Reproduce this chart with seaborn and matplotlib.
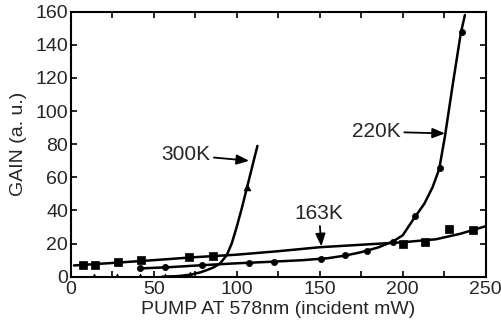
import matplotlib
matplotlib.use("Agg")
import matplotlib.pyplot as plt
import seaborn as sns
import pandas as pd
from matplotlib.ticker import MultipleLocator

# ---- data ----
k163_x = [7.5, 14.5, 28.3, 42.3, 71.3, 86.0, 200.4, 213.4, 228.0, 242.5]
k163_y = [7.0, 7.3, 9.0, 10.3, 12.0, 12.8, 20.0, 21.2, 29.0, 28.5]
k220_x = [42, 57, 79, 107.5, 122.5, 150.5, 165, 178.5, 194, 207.5, 222.5, 235.5]
k220_y = [5.0, 5.7, 7.0, 8.5, 9.0, 10.5, 12.9, 15.7, 20.8, 36.5, 65.5, 147.5]
k300_x = [14, 28, 42, 57, 72, 106]
k300_y = [0, 0, 0, 0, 1.3, 54]

# fitted curves drawn through the points
fit163_x = [2, 25, 50, 75, 100, 125, 150, 175, 200, 220, 235, 250]
fit163_y = [6.8, 8.3, 10.0, 11.8, 13.3, 15.4, 17.8, 19.3, 20.8, 22.6, 26.0, 30.5]
fit220_x = [42, 60, 80, 100, 120, 140, 155, 165, 175, 185, 194, 200, 207, 213, 218, 222, 225.5, 230, 235, 237.5]
fit220_y = [5.0, 5.8, 7.0, 8.1, 9.0, 10.0, 11.2, 12.7, 14.8, 17.6, 21.2, 25.0, 35.5, 44, 54, 65, 85, 115, 147, 158]
fit300_x = [55, 65, 72, 78, 82, 86, 90, 94, 97, 100, 103, 106, 109, 112.5]
fit300_y = [0, 0.4, 1.2, 2.6, 4.0, 5.6, 8.0, 13, 20, 30, 41, 53, 65, 79]

x_ticks = [0, 50, 100, 150, 200, 250]
y_ticks = [0, 20, 40, 60, 80, 100, 120, 140, 160]

sns.set_theme(style="ticks")
plt.rcParams['font.family'] = ['Liberation Sans', 'DejaVu Sans']

fig = plt.figure(figsize=(5.02, 3.23), dpi=100)
ax = fig.add_axes([0.1408, 0.1433, 0.8267, 0.8205])

for fx, fy in [(fit163_x, fit163_y), (fit220_x, fit220_y), (fit300_x, fit300_y)]:
    d = pd.DataFrame({"x": fx, "y": fy})
    sns.lineplot(data=d, x="x", y="y", ax=ax, color="black", lw=1.8,
                 sort=False, estimator=None)

for mx, my, mk, sz in [(k163_x, k163_y, "s", 26), (k220_x, k220_y, "o", 20),
                       (k300_x, k300_y, "^", 24)]:
    d = pd.DataFrame({"x": mx, "y": my})
    sns.scatterplot(data=d, x="x", y="y", ax=ax, marker=mk, s=sz,
                    color="black", edgecolor="black", linewidth=0.5, zorder=5)

ax.set_xlim(0, 250)
ax.set_ylim(0, 160)
ax.set_xticks(x_ticks)
ax.set_yticks(y_ticks)
ax.xaxis.set_minor_locator(MultipleLocator(25))
ax.tick_params(axis="both", which="both", direction="in", top=True, right=True,
               width=1.2, color="black")
ax.tick_params(axis="both", which="major", length=4, labelsize=14)
ax.tick_params(axis="x", which="major", pad=3)
ax.tick_params(axis="y", which="major", pad=2)
ax.tick_params(axis="both", which="minor", length=4)
ax.tick_params(axis="y", which="major", labelright=False)
for s in ax.spines.values():
    s.set_linewidth(1.5)
    s.set_color("black")

ax.set_xlabel("PUMP AT 578nm (incident mW)", fontsize=14, labelpad=2)
ax.set_ylabel("GAIN (a. u.)", fontsize=14, labelpad=6)

arrow = dict(arrowstyle="-|>,head_length=0.5,head_width=0.2", color="black",
             lw=1.3, shrinkA=0, shrinkB=0)
ax.annotate("300K", xy=(107.5, 70), xytext=(69.5, 73.5), fontsize=15,
            ha="center", va="center", arrowprops=arrow)
ax.annotate("220K", xy=(225.5, 86.5), xytext=(184.3, 87.6), fontsize=15,
            ha="center", va="center", arrowprops=arrow)
ax.annotate("163K", xy=(151, 18.3), xytext=(149.6, 38.3), fontsize=15,
            ha="center", va="center", arrowprops=arrow)

fig.savefig("out.png", dpi=100)
